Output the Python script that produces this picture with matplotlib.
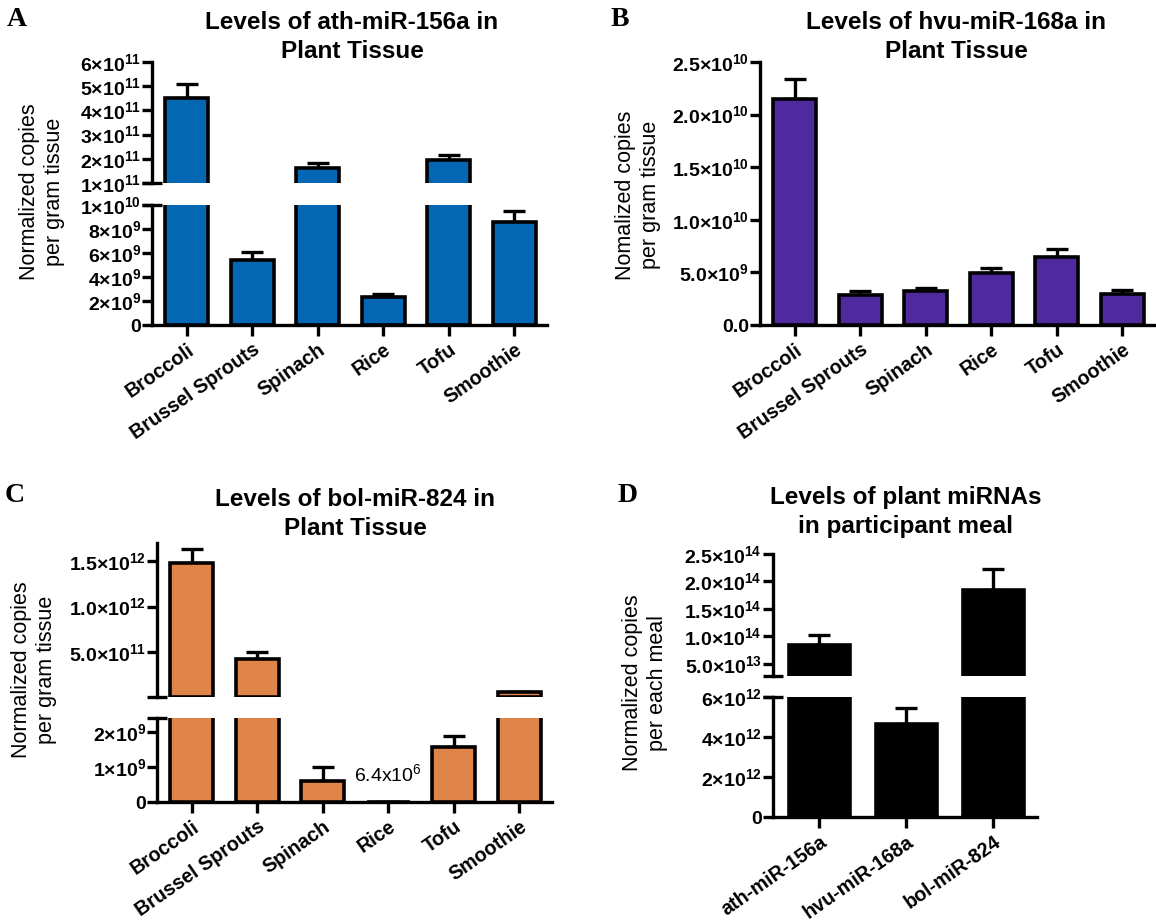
import matplotlib
matplotlib.use('Agg')
import matplotlib.pyplot as plt
import numpy as np

plt.rcParams['font.family'] = 'Liberation Sans'
plt.rcParams['mathtext.fontset'] = 'custom'
plt.rcParams['mathtext.rm'] = 'Liberation Sans:bold'
plt.rcParams['mathtext.sf'] = 'Liberation Sans'
plt.rcParams['mathtext.default'] = 'rm'

foods = ['Broccoli', 'Brussel Sprouts', 'Spinach', 'Rice', 'Tofu', 'Smoothie']
mirnas = ['ath-miR-156a', 'hvu-miR-168a', 'bol-miR-824']

# copies per gram tissue (mean, upper SEM)
ath156 = [4.5e11, 5.4e9, 1.62e11, 2.3e9, 1.95e11, 8.6e9]
ath156_err = [0.6e11, 0.7e9, 0.19e11, 0.25e9, 0.19e11, 0.9e9]
hvu168 = [2.15e10, 2.85e9, 3.26e9, 4.97e9, 6.5e9, 2.98e9]
hvu168_err = [0.19e10, 0.38e9, 0.3e9, 0.42e9, 0.75e9, 0.35e9]
bol824 = [1.48e12, 4.2e11, 6.0e8, 6.4e6, 1.57e9, 6.0e10]
bol824_err = [1.5e11, 0.8e11, 4.0e8, 0.0, 3.3e8, 0.3e10]
# copies per meal
meal = [8.5e13, 4.67e12, 1.85e14]
meal_err = [1.8e13, 0.78e12, 3.8e13]

a_hi_ticks = [1e11, 2e11, 3e11, 4e11, 5e11, 6e11]
a_hi_labels = ['1×10$^{11}$', '2×10$^{11}$', '3×10$^{11}$', '4×10$^{11}$', '5×10$^{11}$', '6×10$^{11}$']
a_lo_ticks = [0, 2e9, 4e9, 6e9, 8e9, 1e10]
a_lo_labels = ['0', '2×10$^{9}$', '4×10$^{9}$', '6×10$^{9}$', '8×10$^{9}$', '1×10$^{10}$']
b_ticks = [0, 5e9, 1e10, 1.5e10, 2e10, 2.5e10]
b_labels = ['0.0', '5.0×10$^{9}$', '1.0×10$^{10}$', '1.5×10$^{10}$', '2.0×10$^{10}$', '2.5×10$^{10}$']
c_hi_ticks = [5e11, 1e12, 1.5e12]
c_hi_labels = ['5.0×10$^{11}$', '1.0×10$^{12}$', '1.5×10$^{12}$']
c_lo_ticks = [0, 1e9, 2e9]
c_lo_labels = ['0', '1×10$^{9}$', '2×10$^{9}$']
d_hi_ticks = [5e13, 1e14, 1.5e14, 2e14, 2.5e14]
d_hi_labels = ['5.0×10$^{13}$', '1.0×10$^{14}$', '1.5×10$^{14}$', '2.0×10$^{14}$', '2.5×10$^{14}$']
d_lo_ticks = [0, 2e12, 4e12, 6e12]
d_lo_labels = ['0', '2×10$^{12}$', '4×10$^{12}$', '6×10$^{12}$']

W, H = 1156, 921
fig = plt.figure(figsize=(W / 100, H / 100), dpi=100)

LW = 2.4


def px_axes(left, top, right, bottom):
    return fig.add_axes([left / W, 1 - bottom / H, (right - left) / W, (bottom - top) / H])


def style(ax, ticks, labels, ylim):
    for s in ['top', 'right']:
        ax.spines[s].set_visible(False)
    for s in ['left', 'bottom']:
        ax.spines[s].set_linewidth(LW)
    ax.set_ylim(*ylim)
    ax.set_yticks(ticks)
    ax.set_yticklabels(labels, fontsize=14, fontweight='bold')
    ax.tick_params(axis='y', length=7, width=LW, pad=1)
    ax.tick_params(axis='x', length=8, width=LW, pad=3)


def draw_bars(ax, vals, errs, color, width, floor=None):
    x = np.arange(len(vals))
    vals = np.asarray(vals)
    errs = np.asarray(errs)
    # skip bars lying wholly below the visible part of an upper (broken) axis
    keep = np.ones(len(vals), bool) if floor is None else vals > floor
    ax.bar(x[keep], vals[keep], width, color=color, edgecolor='black', linewidth=2.6, zorder=3)
    ax.errorbar(x[keep], vals[keep], yerr=[np.zeros(keep.sum()), errs[keep]], fmt='none',
                ecolor='black', elinewidth=LW, capsize=8, capthick=LW, zorder=2)
    ax.set_xlim(-0.53, len(vals) - 0.5)


def xlabels(ax, names):
    ax.set_xticks(np.arange(len(names)))
    ax.set_xticklabels(names, rotation=35, ha='right', rotation_mode='anchor',
                       fontsize=14.2, fontweight='bold')


def break_mark(ax, y):
    ax.plot([0], [y], marker='_', ms=14, mew=LW, color='black',
            transform=ax.transAxes, clip_on=False, zorder=5)


def broken(box_hi, box_lo, vals, errs, color, width, hi, lo, names):
    ax_hi = px_axes(*box_hi)
    ax_lo = px_axes(*box_lo)
    draw_bars(ax_hi, vals, errs, color, width, floor=hi[2][0])
    draw_bars(ax_lo, vals, errs, color, width)
    style(ax_hi, hi[0], hi[1], hi[2])
    style(ax_lo, lo[0], lo[1], lo[2])
    ax_hi.spines['bottom'].set_visible(False)
    ax_hi.tick_params(axis='x', bottom=False, labelbottom=False)
    xlabels(ax_lo, names)
    break_mark(ax_hi, 0)
    break_mark(ax_lo, 1)
    return ax_hi, ax_lo


# A: ath-miR-156a
broken((152, 62, 547, 183), (152, 205, 547, 325), ath156, ath156_err, '#0467b4', 0.65,
       (a_hi_ticks, a_hi_labels, (1e11, 6e11)), (a_lo_ticks, a_lo_labels, (0, 1e10)), foods)

# B: hvu-miR-168a
ax_b = px_axes(760, 62, 1155, 325)
draw_bars(ax_b, hvu168, hvu168_err, '#4f2a9f', 0.65)
style(ax_b, b_ticks, b_labels, (0, 2.5e10))
xlabels(ax_b, foods)

# C: bol-miR-824
c_hi, c_lo = broken((157, 543, 552, 697), (157, 718, 552, 802), bol824, bol824_err, '#e0854a', 0.65,
                    (c_hi_ticks, c_hi_labels, (3e9, 1.7e12)), (c_lo_ticks, c_lo_labels, (0, 2.4e9)), foods)
c_lo.annotate('6.4x10$^{\\mathsf{6}}$', xy=(3, bol824[3]), xytext=(0, 12), textcoords='offset points',
              ha='center', va='bottom', fontsize=14)

# D: meal
broken((773, 554, 1037, 676), (773, 697, 1037, 817), meal, meal_err, 'black', 0.70,
       (d_hi_ticks, d_hi_labels, (2.8e13, 2.5e14)), (d_lo_ticks, d_lo_labels, (0, 6e12)), mirnas)

# titles, axis labels and panel letters
titles = [(352, 37, 'Levels of ath-miR-156a in\nPlant Tissue'),
          (956, 37, 'Levels of hvu-miR-168a in\nPlant Tissue'),
          (355, 514, 'Levels of bol-miR-824 in\nPlant Tissue'),
          (906, 512, 'Levels of plant miRNAs\nin participant meal')]
for x, y, t in titles:
    fig.text(x / W, 1 - y / H, t, ha='center', va='center', fontsize=17.5,
             fontweight='bold', linespacing=1.35)

ylabels = [(42, 192, 'Normalized copies\nper gram tissue'),
           (638, 195, 'Nomalized copies\nper gram tissue'),
           (34, 670, 'Normalized copies\nper gram tissue'),
           (645, 683, 'Normalized copies\nper each meal')]
for x, y, t in ylabels:
    fig.text(x / W, 1 - y / H, t, ha='center', va='center', rotation=90, fontsize=15.5)

letters = [(17, 19, 'A'), (620, 19, 'B'), (15, 495, 'C'), (628, 495, 'D')]
for x, y, t in letters:
    fig.text(x / W, 1 - y / H, t, ha='center', va='center', fontsize=20,
             fontweight='bold', family='Liberation Serif')

fig.savefig('out.png', dpi=100)
